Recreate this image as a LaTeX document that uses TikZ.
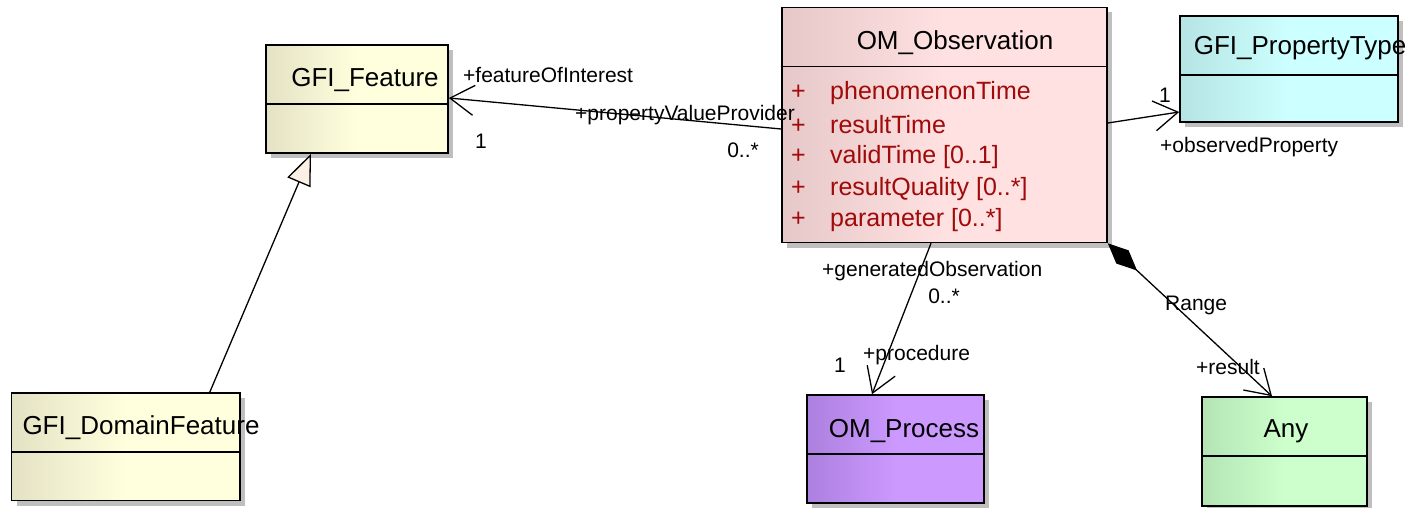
\documentclass[tikz,border=0pt]{standalone}
\usepackage{fontspec}
\setmainfont{Liberation Sans}
\usetikzlibrary{arrows.meta,shadows}

\definecolor{featL}{RGB}{228,226,196}
\definecolor{featR}{RGB}{255,255,221}
\definecolor{obsL}{RGB}{230,200,200}
\definecolor{obsR}{RGB}{255,225,225}
\definecolor{ptypeL}{RGB}{182,228,228}
\definecolor{ptypeR}{RGB}{204,255,255}
\definecolor{procL}{RGB}{172,128,222}
\definecolor{procR}{RGB}{204,153,255}
\definecolor{anyL}{RGB}{180,228,180}
\definecolor{anyR}{RGB}{204,255,204}
\definecolor{attrc}{RGB}{160,10,10}
\definecolor{genfill}{RGB}{250,240,228}

\begin{document}
\begin{tikzpicture}[x=1pt, y=-1pt,
  cls/.style={draw, line width=1.6pt, inner sep=0pt,
    general shadow={fill=black!25, shadow xshift=5pt, shadow yshift=-5pt}},
  title/.style={font=\fontsize{26}{30}\selectfont, inner sep=0pt},
  attr/.style={font=\fontsize{25}{29}\selectfont, text=attrc, anchor=west, inner sep=0pt},
  lbl/.style={font=\fontsize{21}{24}\selectfont, inner sep=0pt},
  sep/.style={line width=1.6pt},
  assoc/.style={line width=1.3pt, -{Straight Barb[length=24pt, width=30pt]}},
  comp/.style={line width=1.3pt, {Diamond[length=40pt, width=18pt]}-{Straight Barb[length=24pt, width=30pt]}},
  gen/.style={line width=1.3pt, -{Triangle[length=31pt, width=25pt, fill=genfill]}}]
  \useasboundingbox (0,0) rectangle (1412,508);

  % classes
  \node[cls, left color=featL, right color=featR, middle color=featR,
    minimum width=182pt, minimum height=108pt] (feat) at (357,99) {};
  \draw[sep] ([yshift=-60pt]feat.north west) -- ([yshift=-60pt]feat.north east);
  \node[title] (featT) at (365,80) {GFI\_Feature};

  \node[cls, left color=obsL, right color=obsR, middle color=obsR,
    minimum width=325pt, minimum height=235pt] (obs) at (944.5,125) {};
  \draw[sep] ([yshift=-60pt]obs.north west) -- ([yshift=-60pt]obs.north east);
  \node[title] (obsT) at (955,43) {OM\_Observation};
  \node[attr] (a1) at (791,93) {\makebox[39pt][l]{+}phenomenonTime};
  \node[attr] (a2) at (791,125) {\makebox[39pt][l]{+}resultTime};
  \node[attr] (a3) at (791,157) {\makebox[39pt][l]{+}validTime [0..1]};
  \node[attr] (a4) at (791,189) {\makebox[39pt][l]{+}resultQuality [0..*]};
  \node[attr] (a5) at (791,220) {\makebox[39pt][l]{+}parameter [0..*]};

  \node[cls, left color=ptypeL, right color=ptypeR, middle color=ptypeR,
    minimum width=218pt, minimum height=106pt] (ptype) at (1289,69) {};
  \draw[sep] ([yshift=-60pt]ptype.north west) -- ([yshift=-60pt]ptype.north east);
  \node[title] (ptypeT) at (1300,48) {GFI\_PropertyType};

  \node[cls, left color=featL, right color=featR, middle color=featR,
    minimum width=228.5pt, minimum height=107.5pt] (dom) at (125.75,446.75) {};
  \draw[sep] ([yshift=-60pt]dom.north west) -- ([yshift=-60pt]dom.north east);
  \node[title] (domT) at (141,428) {GFI\_DomainFeature};

  \node[cls, left color=procL, right color=procR, middle color=procR,
    minimum width=177pt, minimum height=107.7pt] (proc) at (895.5,448.85) {};
  \draw[sep] ([yshift=-60pt]proc.north west) -- ([yshift=-60pt]proc.north east);
  \node[title] (procT) at (904,431) {OM\_Process};

  \node[cls, left color=anyL, right color=anyR, middle color=anyR,
    minimum width=165pt, minimum height=109pt] (any) at (1284.5,451.5) {};
  \draw[sep] ([yshift=-60pt]any.north west) -- ([yshift=-60pt]any.north east);
  \node[title] (anyT) at (1286,431) {Any};

  % connectors
  \draw[assoc] ([yshift=-4pt]obs.west) -- ([yshift=1pt]feat.east);
  \draw[assoc] ([yshift=2pt]obs.east) -- ([yshift=-43pt]ptype.west);
  \draw[assoc] ([xshift=-13.5pt]obs.south) -- ([xshift=-23.5pt]proc.north);
  \draw[comp] (obs.south east) -- ([xshift=-12.5pt]any.north);
  \draw[gen] ([xshift=84pt]dom.north) -- ([xshift=-46pt]feat.south);

  % role names and multiplicities
  \node[lbl, anchor=west] (foi) at (463,75) {+featureOfInterest};
  \node[lbl] (foiM) at (481,141) {1};
  \node[lbl, anchor=west] (pvp) at (575,115) {+propertyValueProvider};
  \node[lbl] (pvpM) at (743,150) {0..*};
  \node[lbl] (opM) at (1165,95) {1};
  \node[lbl, anchor=west] (op) at (1160,147) {+observedProperty};
  \node[lbl, anchor=west] (go) at (822,271) {+generatedObservation};
  \node[lbl] (goM) at (944,296) {0..*};
  \node[lbl] (prM) at (840,365) {1};
  \node[lbl, anchor=west] (pr) at (863,355) {+procedure};
  \node[lbl, anchor=west] (rng) at (1165,305) {Range};
  \node[lbl, anchor=west] (res) at (1196,367) {+result};
\end{tikzpicture}
\end{document}
